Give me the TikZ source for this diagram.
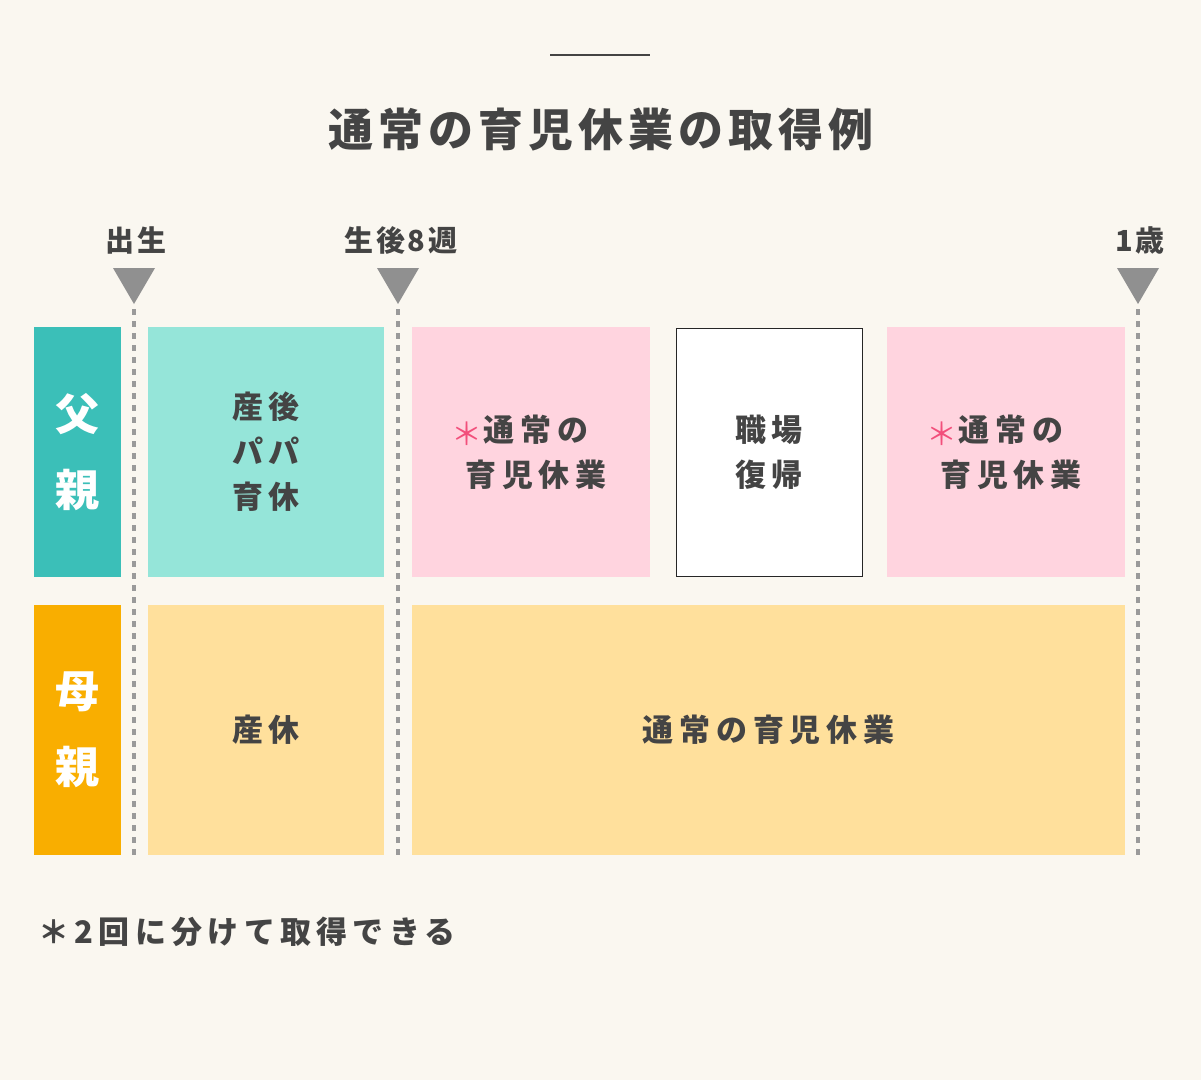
\documentclass[tikz,border=0pt]{standalone}
\usepackage{fontspec}
\newfontfamily\jptitle[LetterSpace=11]{Noto Sans CJK JP}
\newfontfamily\jpbox[LetterSpace=19]{Noto Sans CJK JP}
\newfontfamily\jpnote[LetterSpace=17]{Noto Sans CJK JP}
\newfontfamily\jplab[LetterSpace=9]{Noto Sans CJK JP}
\definecolor{bg}{HTML}{FAF7F0}
\definecolor{txt}{HTML}{444444}
\definecolor{teal}{HTML}{3BBFB8}
\definecolor{mint}{HTML}{95E5D9}
\definecolor{pinkbox}{HTML}{FFD4DF}
\definecolor{star}{HTML}{F24F7B}
\definecolor{orange}{HTML}{F9AE00}
\definecolor{cream}{HTML}{FFE09C}
\definecolor{trigray}{HTML}{909090}
\definecolor{guidegray}{HTML}{9A9A9A}
\tikzset{
  box/.style={inner sep=0pt, outer sep=0pt, minimum width=#1, minimum height=250pt},
  boxtext/.style={text=txt, align=center, font=\jpbox\bfseries\fontsize{31}{45}\selectfont},
  sidetext/.style={text=white, align=center, font=\jpbox\bfseries\fontsize{44}{76}\selectfont},
  marklabel/.style={text=txt, font=\jplab\bfseries\fontsize{29}{32}\selectfont},
  startext/.style={text=star, inner sep=0pt, font=\jptitle\fontsize{31}{36}\selectfont},
  tri/.style={fill=trigray},
  guide/.style={draw=guidegray, line width=3.5pt, dash pattern=on 6pt off 6pt}
}
\begin{document}
\begin{tikzpicture}[x=1pt,y=-1pt]
\fill[bg] (0,0) rectangle (1201,1080);
\useasboundingbox (0,0) rectangle (1201,1080);

% title
\coordinate (rl) at (550,55);
\coordinate (rr) at (650,55);
\draw[txt, line width=1.5pt] (rl) -- (rr);
\node[text=txt, font=\jptitle\bfseries\fontsize{45}{50}\selectfont] (title) at (601,130) {通常の育児休業の取得例};

% markers
\node[marklabel] (m1) at (136,240) {出生};
\node[marklabel] (m2) at (401,240) {生後8週};
\node[marklabel] (m3) at (1140,240) {1歳};
\foreach \n/\x in {1/134,2/398,3/1138}{
  \fill[tri] (\x-21,268) -- (\x+21,268) -- (\x,304) -- cycle;
  \coordinate (t\n) at (\x,309);
  \coordinate (b\n) at (\x,856);
  \draw[guide] (t\n) -- (b\n);
}

% father row
\node[box=87pt, fill=teal] (fa) at (77.5,452) {};
\node[sidetext] (fat) at (fa) {父\\親};
\node[box=236pt, fill=mint] (papa) at (266,452) {};
\node[boxtext] (papat) at (papa) {産後\\パパ\\育休};
\node[box=238pt, fill=pinkbox] (p1) at (531,452) {};
\node[boxtext] (p1a) at ([shift={(5,-22)}]p1.center) {通常の};
\node[startext, anchor=east] (p1s) at ([shift={(3pt,-4pt)}]p1a.west) {＊};
\node[boxtext] (p1b) at ([shift={(5,23)}]p1.center) {育児休業};
\node[box=186pt, minimum height=248pt, fill=white, draw=black!85, line width=1pt] (work) at (769,452) {};
\node[boxtext] (workt) at (work) {職場\\復帰};
\node[box=238pt, fill=pinkbox] (p2) at (1006,452) {};
\node[boxtext] (p2a) at ([shift={(5,-22)}]p2.center) {通常の};
\node[startext, anchor=east] (p2s) at ([shift={(3pt,-4pt)}]p2a.west) {＊};
\node[boxtext] (p2b) at ([shift={(5,23)}]p2.center) {育児休業};

% mother row
\node[box=87pt, fill=orange] (mo) at (77.5,730) {};
\node[sidetext] (mot) at (mo) {母\\親};
\node[box=236pt, fill=cream] (sankyu) at (266,730) {};
\node[boxtext] (sankyut) at (sankyu) {産休};
\node[box=713pt, fill=cream] (ikukyu) at (768.5,730) {};
\node[boxtext] (ikukyut) at (ikukyu) {通常の育児休業};

% footnote
\node[anchor=west, text=txt, font=\jpnote\bfseries\fontsize{31}{36}\selectfont] (note) at (35,932) {＊2回に分けて取得できる};
\end{tikzpicture}
\end{document}
